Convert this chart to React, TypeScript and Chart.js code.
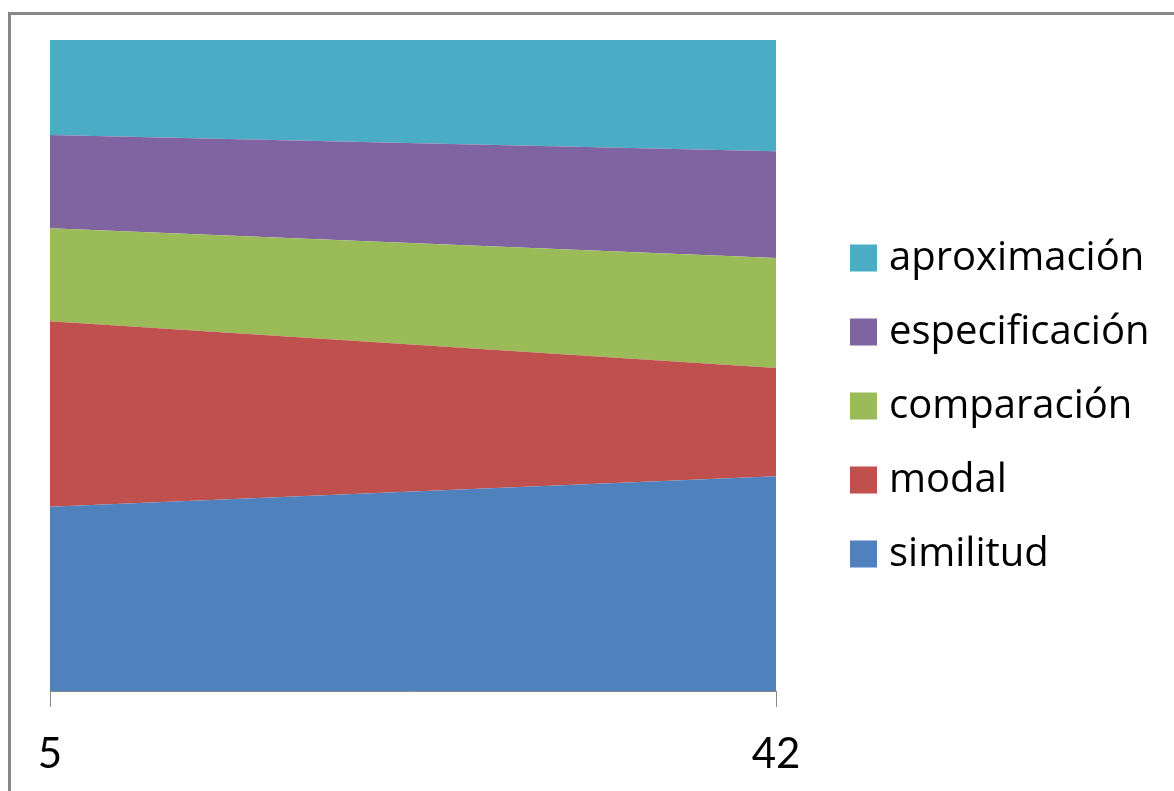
import React, { useEffect, useRef } from "react";
import { Chart, registerables } from "chart.js";

Chart.register(...registerables);

const categories = ["5", "42"];
const seriesNames = ["similitud", "modal", "comparación", "especificación", "aproximación"];
const similitud = [28.3, 33.0];
const modal = [28.5, 16.6];
const comparacion = [14.3, 16.9];
const especificacion = [14.3, 16.4];
const aproximacion = [14.6, 17.1];
const seriesValues = [similitud, modal, comparacion, especificacion, aproximacion];
const seriesColors = ["#4F81BD", "#C0504D", "#9BBB59", "#8064A2", "#4BACC6"];

const TICK_FONT = "Lato, 'Open Sans', sans-serif";
const LEGEND_FONT = "'Open Sans', Lato, sans-serif";

const framePlugin = {
  id: "frame",
  beforeDraw(chart: any) {
    const ctx = chart.ctx;
    ctx.save();
    ctx.fillStyle = "#ffffff";
    ctx.fillRect(0, 0, chart.width, chart.height);
    ctx.strokeStyle = "#888888";
    ctx.lineWidth = 3;
    ctx.beginPath();
    ctx.moveTo(9.5, chart.height + 10);
    ctx.lineTo(9.5, 13.5);
    ctx.lineTo(chart.width + 10, 13.5);
    ctx.stroke();
    ctx.restore();
  },
};

const legendPlugin = {
  id: "sideLegend",
  afterDraw(chart: any) {
    const ctx = chart.ctx;
    const ds = chart.data.datasets;
    const x0 = 850;
    const y0 = 258;
    const step = 74;
    const box = 27;
    ctx.save();
    ctx.font = `40px ${LEGEND_FONT}`;
    ctx.textBaseline = "middle";
    ctx.textAlign = "left";
    for (let i = 0; i < ds.length; i++) {
      const d = ds[ds.length - 1 - i];
      const cy = y0 + i * step;
      ctx.fillStyle = d.backgroundColor;
      ctx.fillRect(x0, cy - box / 2, box, box);
      ctx.fillStyle = "#000000";
      ctx.fillText(d.label, 889, cy + 1);
    }
    ctx.restore();
  },
};

export default function App() {
  const ref = useRef<HTMLCanvasElement | null>(null);
  useEffect(() => {
    if (!ref.current) return;
    const chart = new Chart(ref.current, {
      type: "line",
      data: {
        labels: categories,
        datasets: seriesNames.map((name, i) => ({
          label: name,
          data: seriesValues[i],
          backgroundColor: seriesColors[i],
          borderColor: seriesColors[i],
          borderWidth: 0,
          pointRadius: 0,
          fill: i === 0 ? "origin" : "-1",
          tension: 0,
        })),
      },
      options: {
        animation: false,
        responsive: false,
        layout: { padding: { left: 50, top: 40, right: 398, bottom: 0 } },
        plugins: { legend: { display: false }, tooltip: { enabled: false } },
        scales: {
          x: {
            offset: false,
            grid: { drawOnChartArea: false, drawTicks: true, tickLength: 16, color: "#888888" },
            border: { display: true, color: "#888888", width: 1 },
            ticks: { color: "#000000", font: { family: TICK_FONT, size: 42, lineHeight: 1.0 }, padding: 26, autoSkip: false, maxRotation: 0 },
          },
          y: {
            display: false,
            stacked: true,
            min: 0,
            max: 100,
          },
        },
      },
      plugins: [framePlugin, legendPlugin],
    });
    return () => chart.destroy();
  }, []);
  return (
    <div style={{ position: "absolute", left: 0, top: 0, width: 1174, height: 791, overflow: "hidden" }}>
      <canvas ref={ref} width={1174} height={801} style={{ display: "block" }} />
    </div>
  );
}
